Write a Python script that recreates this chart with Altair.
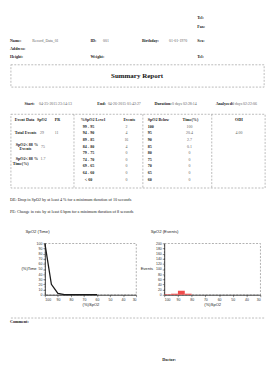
import altair as alt
import pandas as pd

contact_labels = ["Tel:", "Fax:"]
patient_labels = ["Name:", "ID:", "Birthday:", "Sex:", "Address:", "Height:", "Weight:", "Tel:"]
patient_values = ["Record_Data_01", "001", "01-01-1970"]
report_title = "Summary Report"
time_labels = ["Start:", "End:", "Duration:", "Analyzed:"]
time_values = ["04-25-2015 23:14:13", "04-26-2015 01:42:27", "0 days 02:28:14", "0 days 02:22:06"]

event_headers = ["Event Data", "SpO2", "PR"]
total_label = "Total Events"
total_events = ["29", "11"]
event_row_labels = ["SpO2< 88 %", "Events", "SpO2< 88 %", "Time(%)"]
event_row_values = ["75", "1.7"]

level_headers = ["%SpO2 Level", "Events"]
spo2_levels = ["99 - 95", "94 - 90", "89 - 85", "84 - 80", "79 - 75", "74 - 70", "69 - 65", "64 - 60", "< 60"]
level_upper = [100, 95, 90, 85, 80, 75, 70, 65, 60]
level_lower = [95, 90, 85, 80, 75, 70, 65, 60, 55]
level_events = [2, 4, 16, 4, 0, 0, 0, 0, 0]

below_headers = ["SpO2 Below", "Time(%)"]
below_thresholds = [100, 95, 90, 85, 80, 75, 70, 65, 60]
below_time = [100, 20.4, 2.7, 0.1, 0, 0, 0, 0, 0]

odi_header = "ODI"
odi_value = "4.00"

notes = ["DE: Drop in SpO2 by at least 4 % for a minimum duration of 10 seconds",
         "PE: Change in rate by at least 6 bpm for a minimum duration of 8 seconds"]
footer_labels = ["Comment:", "Doctor:"]

chart_titles = ["SpO2 (Time)", "SpO2 (Events)"]
x_title = "(%)SpO2"
y_titles = ["(%)Time", "Events"]
x_ticks = [100, 90, 80, 70, 60, 50, 40, 30]
time_ticks = [0, 10, 20, 30, 40, 50, 60, 70, 80, 90, 100]
event_ticks = [0, 20, 40, 60, 80, 100, 120, 140, 160, 180, 200]

# ---------------- layout (page pixel positions) ----------------
SERIF = "Liberation Serif"
SANS = "Liberation Sans"
row_y = [125 + 6.8 * i for i in range(9)]
PAGE_TOP, PLOT_TOP, PAGE_BOT = 8, 245, 369
PLOT_H = 53

XS = alt.Scale(domain=[8, 277], nice=False, zero=False)


def yscale(y0, y1):
    return alt.Scale(domain=[y0, y1], nice=False, zero=False, reverse=True)


def text_layer(rows, ys, align="left", bold=False, size=4.2, color="#222"):
    df = pd.DataFrame(rows, columns=["text", "x", "y"])
    return alt.Chart(df).mark_text(
        align=align, baseline="middle", font=SERIF,
        fontWeight="bold" if bold else "normal", fontSize=size, color=color
    ).encode(
        x=alt.X("x:Q", scale=XS, axis=None),
        y=alt.Y("y:Q", scale=ys, axis=None),
        text="text:N",
    )


def box_layer(rows, ys):
    df = pd.DataFrame(rows, columns=["x", "x2", "y", "y2"])
    return alt.Chart(df).mark_rect(
        fillOpacity=0, stroke="#8c8c8c", strokeWidth=0.6, strokeDash=[2, 1.5]
    ).encode(
        x=alt.X("x:Q", scale=XS, axis=None), x2="x2:Q",
        y=alt.Y("y:Q", scale=ys, axis=None), y2="y2:Q",
    )


def rule_layer(rows, ys):
    df = pd.DataFrame(rows, columns=["x", "x2", "y", "y2"])
    return alt.Chart(df).mark_rule(
        stroke="#8c8c8c", strokeWidth=0.6, strokeDash=[2, 1.5]
    ).encode(
        x=alt.X("x:Q", scale=XS, axis=None), x2="x2:Q",
        y=alt.Y("y:Q", scale=ys, axis=None), y2="y2:Q",
    )


# ---------- header block (patient data, summary table, notes) ----------
hy = yscale(PAGE_TOP, PLOT_TOP)
bold_left = [
    (contact_labels[0], 203, 13), (contact_labels[1], 203, 22),
    (patient_labels[0], 10, 37), (patient_labels[1], 93, 37),
    (patient_labels[2], 146, 37), (patient_labels[3], 203, 37),
    (patient_labels[4], 10, 45),
    (patient_labels[5], 10, 53), (patient_labels[6], 93, 53), (patient_labels[7], 203, 53),
    (time_labels[0], 25, 101), (time_labels[1], 100, 101),
    (time_labels[2], 159, 101), (time_labels[3], 222, 101),
    (event_headers[0], 15, 118), (level_headers[0], 83, 118), (below_headers[0], 152, 118),
    (total_label, 15, 131),
    (event_row_labels[0], 16, 144), (event_row_labels[2], 16, 158),
    (event_row_labels[3], 13, 163),
] + [(str(t), 152, y) for t, y in zip(below_thresholds, row_y)]

bold_center = [
    (event_headers[1], 43, 118), (event_headers[2], 59, 118),
    (level_headers[1], 133, 118), (below_headers[1], 196, 118), (odi_header, 246, 118),
    (event_row_labels[1], 26, 148),
] + [(lv, 91, y) for lv, y in zip(spo2_levels, row_y)]

value_left = [
    (patient_values[0], 33, 37), (patient_values[1], 106, 37), (patient_values[2], 174, 37),
    (time_values[0], 40, 101), (time_values[1], 111, 101),
    (time_values[2], 177, 101), (time_values[3], 239, 101),
]

value_center = [
    (total_events[0], 43, 131), (total_events[1], 58, 131),
    (event_row_values[0], 44, 146), (event_row_values[1], 44, 158),
    (odi_value, 246, 131),
] + [(str(e), 130, y) for e, y in zip(level_events, row_y)] \
  + [(f"{t:g}", 195, y) for t, y in zip(below_time, row_y)]

note_rows = [(notes[0], 10, 200), (notes[1], 10, 213)]

header = alt.layer(
    box_layer([(11, 272, 61, 84), (11, 273, 112, 188)], hy),
    rule_layer([(76, 76, 112, 188), (147, 147, 112, 188), (218, 218, 112, 188)], hy),
    text_layer([(report_title, 141, 73)], hy, align="center", bold=True, size=7.2, color="#111"),
    text_layer(bold_left, hy, bold=True, size=4.2, color="#222"),
    text_layer(bold_center, hy, align="center", bold=True, size=4.2, color="#222"),
    text_layer(value_left, hy, size=4.0, color="#666"),
    text_layer(value_center, hy, align="center", size=4.0, color="#666"),
    text_layer(note_rows, hy, size=4.3, color="#222"),
).properties(width=269, height=PLOT_TOP - PAGE_TOP)

# ---------- charts ----------
frame = alt.ViewBackground(stroke="#8c8c8c", strokeWidth=0.7, strokeDash=[2, 1.5])
axis_common = dict(labelFontSize=3.6, labelFont=SANS, labelColor="#333", titleFont=SANS,
                   titleFontSize=4.2, titleFontWeight="normal", titleColor="#222",
                   tickSize=2, tickColor="#222", tickWidth=0.5, domainColor="#111",
                   domainWidth=0.8, labelPadding=1, grid=False)

line_df = pd.DataFrame({"spo2": below_thresholds, "time": below_time})
left_chart = alt.Chart(line_df).mark_line(color="#1a1a1a", strokeWidth=1.3).encode(
    x=alt.X("spo2:Q", scale=alt.Scale(domain=[100, 30], nice=False, zero=False),
            axis=alt.Axis(values=x_ticks, title=x_title, titlePadding=2, **axis_common)),
    y=alt.Y("time:Q", scale=alt.Scale(domain=[0, 100], nice=False),
            axis=alt.Axis(values=time_ticks, title=y_titles[0], titleAngle=0, titleAlign="right",
                          titleBaseline="middle", titleX=-9, titleY=26, **axis_common)),
).properties(
    width=94, height=PLOT_H, view=frame,
    title=alt.TitleParams(chart_titles[0], anchor="start", frame="group", dx=-20, offset=7,
                          fontSize=4.4, font=SANS, fontWeight="normal", color="#222"),
)

bar_df = pd.DataFrame({"hi": level_upper, "lo": level_lower, "events": level_events})
right_chart = alt.Chart(bar_df).mark_rect(color="#f04c4c").encode(
    x=alt.X("hi:Q", scale=alt.Scale(domain=[100, 30], nice=False, zero=False),
            axis=alt.Axis(values=x_ticks, title=x_title, titlePadding=2, **axis_common)),
    x2="lo:Q",
    y=alt.Y("events:Q", scale=alt.Scale(domain=[0, 200], nice=False),
            axis=alt.Axis(values=event_ticks, title=y_titles[1], titleAngle=0, titleAlign="right",
                          titleBaseline="middle", titleX=-12, titleY=26, **axis_common)),
    y2=alt.datum(0),
).properties(
    width=99, height=PLOT_H, view=frame,
    title=alt.TitleParams(chart_titles[1], anchor="start", frame="group", dx=-14, offset=7,
                          fontSize=4.4, font=SANS, fontWeight="normal", color="#222"),
)


def spacer(w, h):
    return alt.Chart(pd.DataFrame({"v": [0]})).mark_point(opacity=0).encode(
        x=alt.X("v:Q", axis=None), y=alt.Y("v:Q", axis=None)
    ).properties(width=w, height=h)


# a nested concat has no fixed size under "flush" bounds, so the block after it
# starts at the same place as the charts row (page y = PLOT_TOP)
middle = alt.hconcat(spacer(38, PLOT_H), left_chart, spacer(29, PLOT_H), right_chart,
                     spacing=0, bounds="flush")

# ---------- footer block (comment / doctor) ----------
fy = yscale(PLOT_TOP, PAGE_BOT)
footer = alt.layer(
    rule_layer([(11, 273, 322, 322)], fy),
    text_layer([(footer_labels[0], 10, 326), (footer_labels[1], 167, 365)], fy,
               bold=True, size=4.3, color="#222"),
).properties(width=269, height=PAGE_BOT - PLOT_TOP)

chart = alt.vconcat(header, middle, footer, spacing=0, bounds="flush").properties(
    padding=0, background="white"
).configure_view(stroke=None)

chart.save("out.html", embed_options={"renderer": "svg", "actions": False})
